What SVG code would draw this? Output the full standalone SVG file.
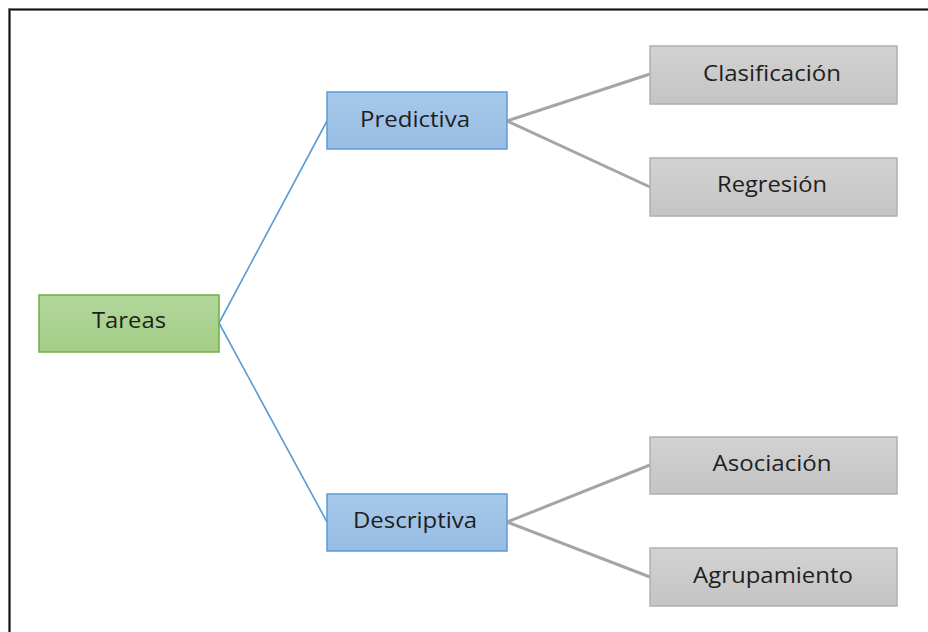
<svg xmlns="http://www.w3.org/2000/svg" width="928" height="632" viewBox="0 0 928 632">
  <defs>
    <linearGradient id="gGreen" x1="0" y1="0" x2="0" y2="1">
      <stop offset="0" stop-color="#b2d79a"/>
      <stop offset="1" stop-color="#a3cd87"/>
    </linearGradient>
    <linearGradient id="gBlue" x1="0" y1="0" x2="0" y2="1">
      <stop offset="0" stop-color="#a6c8ea"/>
      <stop offset="1" stop-color="#98bde4"/>
    </linearGradient>
    <linearGradient id="gGray" x1="0" y1="0" x2="0" y2="1">
      <stop offset="0" stop-color="#d2d2d2"/>
      <stop offset="1" stop-color="#c4c4c4"/>
    </linearGradient>
  </defs>
  <style>
    .lbl { font-family: "Open Sans", "Liberation Sans", sans-serif; font-size: 21px; fill: #1e1e1e; text-anchor: middle; }
    .green { fill: url(#gGreen); stroke: #70ad47; stroke-width: 1.5; }
    .blue { fill: url(#gBlue); stroke: #5b9bd5; stroke-width: 1.5; }
    .gray { fill: url(#gGray); stroke: #b0b0b0; stroke-width: 1.5; }
    .lvl1 { stroke: #5b9bd5; stroke-width: 1.6; fill: none; }
    .lvl2 { stroke: #a5a5a5; stroke-width: 3; fill: none; }
  </style>

  <rect width="928" height="632" fill="#ffffff"/>
  <!-- frame (open to the right and bottom) -->
  <path d="M9.5 632 V9.5 H928" fill="none" stroke="#9a9a9a" stroke-width="3"/>
  <path d="M9.5 632 V9.5 H928" fill="none" stroke="#111111" stroke-width="1.6"/>

  <g id="connectors">
    <path class="lvl1" d="M219 323 L327 121"/>
    <path class="lvl1" d="M219 323 L327 522"/>
    <path class="lvl2" d="M507 121 L650 74"/>
    <path class="lvl2" d="M507 121 L650 187"/>
    <path class="lvl2" d="M507 522 L650 465"/>
    <path class="lvl2" d="M507 522 L650 577"/>
  </g>

  <g id="tareas">
    <rect class="green" x="39" y="295" width="180" height="57"/>
    <text class="lbl" x="129" y="328" textLength="74" lengthAdjust="spacingAndGlyphs">Tareas</text>
  </g>
  <g id="predictiva">
    <rect class="blue" x="327" y="92" width="180" height="57"/>
    <text class="lbl" x="415" y="127" textLength="110" lengthAdjust="spacingAndGlyphs">Predictiva</text>
  </g>
  <g id="descriptiva">
    <rect class="blue" x="327" y="494" width="180" height="57"/>
    <text class="lbl" x="415" y="528" textLength="124" lengthAdjust="spacingAndGlyphs">Descriptiva</text>
  </g>
  <g id="clasificacion">
    <rect class="gray" x="650" y="46" width="247" height="58"/>
    <text class="lbl" x="772" y="81" textLength="138" lengthAdjust="spacingAndGlyphs">Clasificación</text>
  </g>
  <g id="regresion">
    <rect class="gray" x="650" y="158" width="247" height="58"/>
    <text class="lbl" x="772" y="192" textLength="110" lengthAdjust="spacingAndGlyphs">Regresión</text>
  </g>
  <g id="asociacion">
    <rect class="gray" x="650" y="437" width="247" height="57"/>
    <text class="lbl" x="772" y="471" textLength="119" lengthAdjust="spacingAndGlyphs">Asociación</text>
  </g>
  <g id="agrupamiento">
    <rect class="gray" x="650" y="548" width="247" height="58"/>
    <text class="lbl" x="773" y="583" textLength="160" lengthAdjust="spacingAndGlyphs">Agrupamiento</text>
  </g>
</svg>
